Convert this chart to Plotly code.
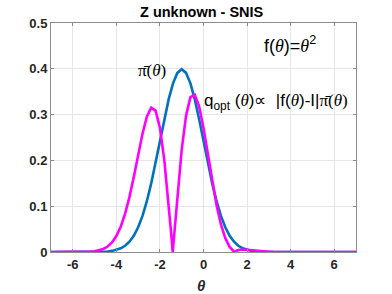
import plotly.graph_objects as go

theta_pi = [-7, -6, -5.4, -5.2, -5.0, -4.8, -4.6, -4.4, -4.2, -4.0, -3.8, -3.6, -3.4, -3.2,
            -3.0, -2.8, -2.6, -2.4, -2.2, -2.0, -1.8, -1.6, -1.4, -1.2, -1.0, -0.8, -0.6,
            -0.4, -0.2, 0.0, 0.2, 0.4, 0.6, 0.8, 1.0, 1.2, 1.4, 1.6, 1.8, 2.0, 2.2, 2.4,
            2.6, 2.8, 3.0, 3.2, 3.4, 4, 5, 6, 7]
pi_vals = [0, 0, 0.00003, 0.00006, 0.00013, 0.00029, 0.00061, 0.00123, 0.00238, 0.00443,
           0.00792, 0.01358, 0.02239, 0.03547, 0.05399, 0.07895, 0.11092, 0.14973, 0.19419,
           0.24197, 0.28969, 0.33322, 0.36827, 0.39104, 0.39894, 0.39104, 0.36827, 0.33322,
           0.28969, 0.24197, 0.19419, 0.14973, 0.11092, 0.07895, 0.05399, 0.03547, 0.02239,
           0.01358, 0.00792, 0.00443, 0.00238, 0.00123, 0.00061, 0.00029, 0.00013, 0.00006,
           0.00003, 0, 0, 0, 0]

theta_q = [-7, -6, -5.6, -5.4, -5.2, -5.0, -4.8, -4.6, -4.4, -4.2, -4.0, -3.8, -3.6, -3.4,
           -3.2, -3.0, -2.8, -2.6, -2.4, -2.2, -2.0, -1.8, -1.7, -1.6, -1.5, -1.4142, -1.4,
           -1.3, -1.2, -1.1, -1.0, -0.8, -0.6, -0.4, -0.2, 0.0, 0.2, 0.4, 0.6, 0.8, 1.0, 1.2,
           1.4142, 1.6, 1.8, 2.0, 2.2, 2.4, 2.6, 2.8, 3.0, 3.2, 3.4, 4, 5, 6, 7]
q_vals = [0, 0, 0.00017, 0.00038, 0.00083, 0.00172, 0.00344, 0.00657, 0.01198, 0.02088,
          0.03475, 0.05514, 0.08337, 0.11989, 0.16370, 0.21165, 0.25820, 0.29567, 0.31526,
          0.30883, 0.27101, 0.20116, 0.15563, 0.10450, 0.04929, 0, 0.00825, 0.06621, 0.12263,
          0.17561, 0.22341, 0.29782, 0.33822, 0.34335, 0.31797, 0.27101, 0.21314, 0.15428,
          0.10187, 0.06013, 0.03024, 0.01113, 0, 0.00426, 0.00550, 0.00496, 0.00379, 0.00259,
          0.00163, 0.00095, 0.00052, 0.00027, 0.0001, 0, 0, 0, 0]

x_ticks = [-6, -4, -2, 0, 2, 4, 6]
y_ticks = [0, 0.1, 0.2, 0.3, 0.4, 0.5]
y_tick_labels = ["0", "0.1", "0.2", "0.3", "0.4", "0.5"]

W, H = 392, 294
ML, MR, MT, MB = 51, 36, 23, 42
PW, PH = W - ML - MR, H - MT - MB


def px(sx):
    return (sx - ML) / PW


def py(sy):
    return (H - MB - sy) / PH


fig = go.Figure()
fig.add_trace(go.Scatter(x=theta_pi, y=pi_vals, mode="lines",
                         line=dict(color="#0072BD", width=2.6), showlegend=False))
fig.add_trace(go.Scatter(x=theta_q, y=q_vals, mode="lines",
                         line=dict(color="#FF00FF", width=2.6), showlegend=False))

SERIF = "Liberation Serif"
SANS = "Liberation Sans"


def th():
    return f"<span style='font-family:{SERIF}'><i>θ</i></span>"


fig.add_annotation(x=3.95, y=0.454, xref="x", yref="y", showarrow=False,
                   text=f"f({th()})={th()}<sup>2</sup>",
                   font=dict(family=SANS, size=18, color="#000"))
fig.add_annotation(x=-0.05, y=0.327, xref="x", yref="y", showarrow=False, xanchor="left",
                   text=f"q<sub>opt</sub> ({th()})∝  |f({th()})-I|<span style='font-family:{SERIF}'>π̄(<i>θ</i>)</span>",
                   font=dict(family=SANS, size=17, color="#000"))
fig.add_annotation(x=-2.38, y=0.397, xref="x", yref="y", showarrow=False,
                   text="π̄(<i>θ</i>)",
                   font=dict(family=SERIF, size=17, color="#000"))

fig.add_annotation(x=px(201), y=py(285), xref="paper", yref="paper", showarrow=False,
                   yanchor="middle", text="<b><i>θ</i></b>",
                   font=dict(family=SANS, size=15, color="#262626"))
fig.add_annotation(x=px(202), y=py(12), xref="paper", yref="paper", showarrow=False,
                   yanchor="middle", text="<b>Z unknown - SNIS</b>",
                   font=dict(family=SANS, size=14.5, color="#000"))

axis_common = dict(showgrid=True, gridcolor="#e6e6e6", gridwidth=1,
                   showline=True, linecolor="#8c8c8c", linewidth=1, mirror="ticks",
                   ticks="inside", ticklen=3, tickcolor="#8c8c8c", zeroline=False,
                   automargin=False,
                   tickfont=dict(family=SANS, size=13, color="#262626"))

fig.update_xaxes(range=[-7, 7], tickvals=x_ticks,
                 ticktext=[f"<b>{v}</b>" for v in x_ticks],
                 **axis_common)
fig.update_yaxes(range=[0, 0.5], tickvals=y_ticks,
                 ticktext=[f"<b>{t}</b>" for t in y_tick_labels],
                 **axis_common)

fig.update_layout(width=W, height=H,
                  margin=dict(l=ML, r=MR, t=MT, b=MB, autoexpand=False),
                  paper_bgcolor="white", plot_bgcolor="white")

fig.write_html("out.html", config={"displayModeBar": False},
               post_script="document.body.style.margin='0';document.body.style.overflow='hidden';")
